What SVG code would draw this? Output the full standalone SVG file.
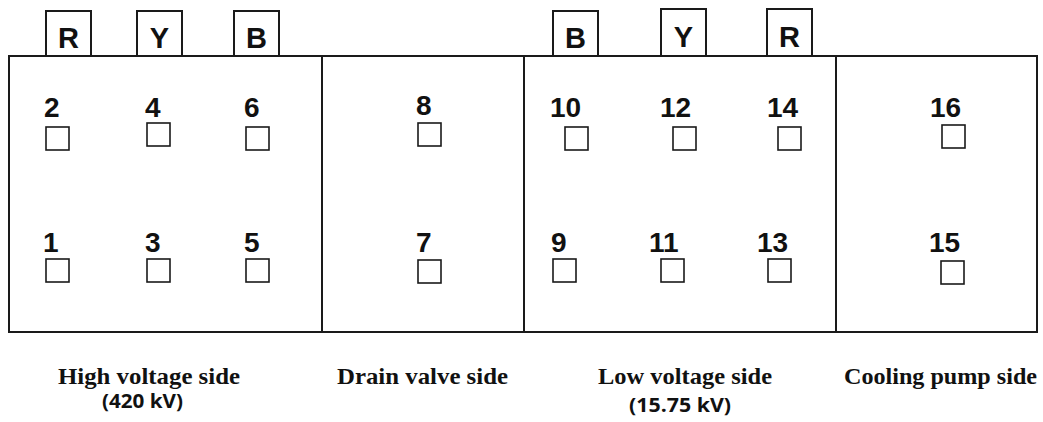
<svg xmlns="http://www.w3.org/2000/svg" width="1043" height="422" viewBox="0 0 1043 422">
  <style>
    .frame { fill: none; stroke: #1a1a1a; stroke-width: 2; }
    .tab { fill: #ffffff; stroke: #1a1a1a; stroke-width: 2; }
    .term { fill: #ffffff; stroke: #1a1a1a; stroke-width: 1.6; }
    .phase { font-family: "Liberation Sans", Arial, sans-serif; font-weight: bold; font-size: 29px; fill: #111; text-anchor: middle; }
    .num { font-family: "Liberation Sans", Arial, sans-serif; font-weight: bold; font-size: 28px; fill: #111; }
    .side { font-family: "Liberation Serif", "Times New Roman", serif; font-weight: bold; font-size: 24px; fill: #111; }
    .kv { font-family: "Open Sans", "Liberation Sans", sans-serif; font-weight: bold; font-size: 19px; fill: #111; }
  </style>
  <rect width="1043" height="422" fill="#ffffff"/>

  <!-- phase bushings on top of the tank -->
  <g id="bushing-hv-R"><rect class="tab" x="46" y="11" width="45" height="45"/><text class="phase" x="68.5" y="48">R</text></g>
  <g id="bushing-hv-Y"><rect class="tab" x="137" y="11" width="45" height="45"/><text class="phase" x="159.5" y="48">Y</text></g>
  <g id="bushing-hv-B"><rect class="tab" x="234" y="11" width="45" height="45"/><text class="phase" x="256.5" y="48">B</text></g>
  <g id="bushing-lv-B"><rect class="tab" x="553" y="11" width="45" height="45"/><text class="phase" x="575.5" y="48">B</text></g>
  <g id="bushing-lv-Y"><rect class="tab" x="661" y="9" width="45" height="47"/><text class="phase" x="683.5" y="47">Y</text></g>
  <g id="bushing-lv-R"><rect class="tab" x="767" y="9" width="45" height="47"/><text class="phase" x="789.5" y="47">R</text></g>

  <!-- tank outline and side partitions -->
  <g id="tank">
    <rect class="frame" x="9" y="56" width="1028" height="276"/>
    <line class="frame" x1="322" y1="56" x2="322" y2="332"/>
    <line class="frame" x1="524" y1="56" x2="524" y2="332"/>
    <line class="frame" x1="836" y1="56" x2="836" y2="332"/>
  </g>

  <!-- high voltage side -->
  <g id="hv-side">
    <text class="num" x="44" y="117">2</text><rect class="term" x="46" y="127" width="23" height="23"/>
    <text class="num" x="145" y="117">4</text><rect class="term" x="147" y="123" width="23" height="23"/>
    <text class="num" x="244" y="117">6</text><rect class="term" x="246" y="127" width="23" height="23"/>
    <text class="num" x="43" y="252">1</text><rect class="term" x="46" y="259" width="23" height="23"/>
    <text class="num" x="145" y="252">3</text><rect class="term" x="147" y="259" width="23" height="23"/>
    <text class="num" x="244" y="252">5</text><rect class="term" x="246" y="259" width="23" height="23"/>
    <text class="side" x="58" y="384" textLength="182" lengthAdjust="spacingAndGlyphs">High voltage side</text>
    <text class="kv" x="102" y="408" textLength="81" lengthAdjust="spacingAndGlyphs">(420 kV)</text>
  </g>

  <!-- drain valve side -->
  <g id="drain-side">
    <text class="num" x="416" y="115">8</text><rect class="term" x="418" y="123" width="23" height="23"/>
    <text class="num" x="416" y="252">7</text><rect class="term" x="418" y="260" width="23" height="23"/>
    <text class="side" x="337" y="384" textLength="171" lengthAdjust="spacingAndGlyphs">Drain valve side</text>
  </g>

  <!-- low voltage side -->
  <g id="lv-side">
    <text class="num" x="550" y="117">10</text><rect class="term" x="565" y="127" width="23" height="23"/>
    <text class="num" x="660" y="117">12</text><rect class="term" x="673" y="127" width="23" height="23"/>
    <text class="num" x="767" y="117">14</text><rect class="term" x="778" y="127" width="23" height="23"/>
    <text class="num" x="551" y="252">9</text><rect class="term" x="553" y="259" width="23" height="23"/>
    <text class="num" x="649" y="252">11</text><rect class="term" x="661" y="259" width="23" height="23"/>
    <text class="num" x="757" y="252">13</text><rect class="term" x="768" y="259" width="23" height="23"/>
    <text class="side" x="598" y="384" textLength="174" lengthAdjust="spacingAndGlyphs">Low voltage side</text>
    <text class="kv" x="629" y="412" textLength="102" lengthAdjust="spacingAndGlyphs">(15.75 kV)</text>
  </g>

  <!-- cooling pump side -->
  <g id="cooling-side">
    <text class="num" x="930" y="117">16</text><rect class="term" x="942" y="125" width="23" height="23"/>
    <text class="num" x="929" y="252">15</text><rect class="term" x="941" y="261" width="23" height="23"/>
    <text class="side" x="844" y="384" textLength="193" lengthAdjust="spacingAndGlyphs">Cooling pump side</text>
  </g>
</svg>
